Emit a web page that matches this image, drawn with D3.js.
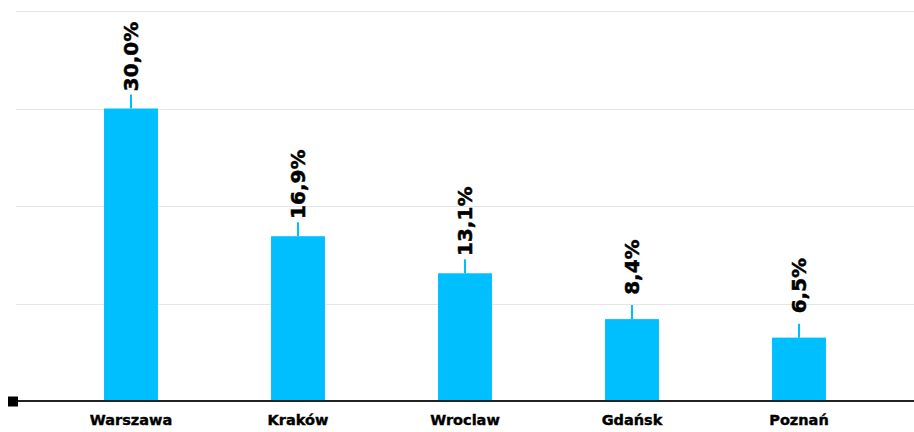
<!DOCTYPE html>
<html>
<head>
<meta charset="utf-8">
<script src="https://cdn.jsdelivr.net/npm/d3@7"></script>
<style>
  html, body { margin: 0; padding: 0; background: #fff; }
  svg { display: block; }
</style>
</head>
<body>
<svg id="chart" width="914" height="432"></svg>
<script>
// Share of listings by city (%)
const cities = ["Warszawa", "Kraków", "Wroclaw", "Gdańsk", "Poznań"];
const shares = [30.0, 16.9, 13.1, 8.4, 6.5];
const gridTicks = [10, 20, 30, 40];

const W = 914, H = 432;
const svg = d3.select("#chart");

const x = d3.scaleBand()
  .domain(cities)
  .range([47.5, 882.5])
  .paddingInner(0.677)
  .paddingOuter(0.3385);

const y = d3.scaleLinear().domain([0, 40]).range([401, 11]);

const fmt = v => d3.format(".1f")(v).replace(".", ",") + "%";

// horizontal gridlines
svg.append("g")
  .selectAll("line")
  .data(gridTicks)
  .join("line")
  .attr("x1", 16).attr("x2", W)
  .attr("y1", d => Math.round(y(d)) + 0.5)
  .attr("y2", d => Math.round(y(d)) + 0.5)
  .attr("stroke", "#e6e6e6")
  .attr("stroke-width", 1);

const data = cities.map((c, i) => ({ city: c, value: shares[i] }));

// bars
svg.append("g")
  .selectAll("rect")
  .data(data)
  .join("rect")
  .attr("x", d => x(d.city))
  .attr("y", d => y(d.value))
  .attr("width", x.bandwidth())
  .attr("height", d => y(0) - y(d.value))
  .attr("fill", "#00bfff");

// small stems above bars
const stemLen = 14;
svg.append("g")
  .selectAll("line")
  .data(data)
  .join("line")
  .attr("x1", d => x(d.city) + x.bandwidth() / 2)
  .attr("x2", d => x(d.city) + x.bandwidth() / 2)
  .attr("y1", d => y(d.value))
  .attr("y2", d => y(d.value) - stemLen)
  .attr("stroke", "#00bfff")
  .attr("stroke-width", 2);

// rotated value labels, centred a fixed distance above each bar
const labelOffset = 52;
svg.append("g")
  .selectAll("text")
  .data(data)
  .join("text")
  .attr("transform", d => {
    const cx = x(d.city) + x.bandwidth() / 2;
    const cy = y(d.value) - labelOffset;
    return `translate(${cx},${cy}) rotate(-90)`;
  })
  .attr("dy", "0.36em")
  .attr("text-anchor", "middle")
  .attr("font-family", "DejaVu Sans, sans-serif")
  .attr("font-weight", "bold")
  .attr("font-size", 20)
  .attr("fill", "#000")
  .attr("stroke", "#000")
  .attr("stroke-width", 0.5)
  .text(d => fmt(d.value));

// baseline axis
const axis = d3.axisBottom(x).tickSize(0).tickPadding(14);
const gx = svg.append("g")
  .attr("transform", `translate(0,${y(0)})`)
  .call(axis);
gx.select(".domain").remove();
gx.selectAll("text")
  .attr("font-family", "DejaVu Sans, sans-serif")
  .attr("font-weight", "bold")
  .attr("font-size", 14.5)
  .attr("fill", "#000")
  .attr("stroke", "#000")
  .attr("stroke-width", 0.4);

svg.append("line")
  .attr("x1", 13).attr("x2", W)
  .attr("y1", y(0)).attr("y2", y(0))
  .attr("stroke", "#222")
  .attr("stroke-width", 2);

svg.append("rect")
  .attr("x", 8).attr("y", y(0) - 4.5)
  .attr("width", 10).attr("height", 10)
  .attr("fill", "#000");
</script>
</body>
</html>
